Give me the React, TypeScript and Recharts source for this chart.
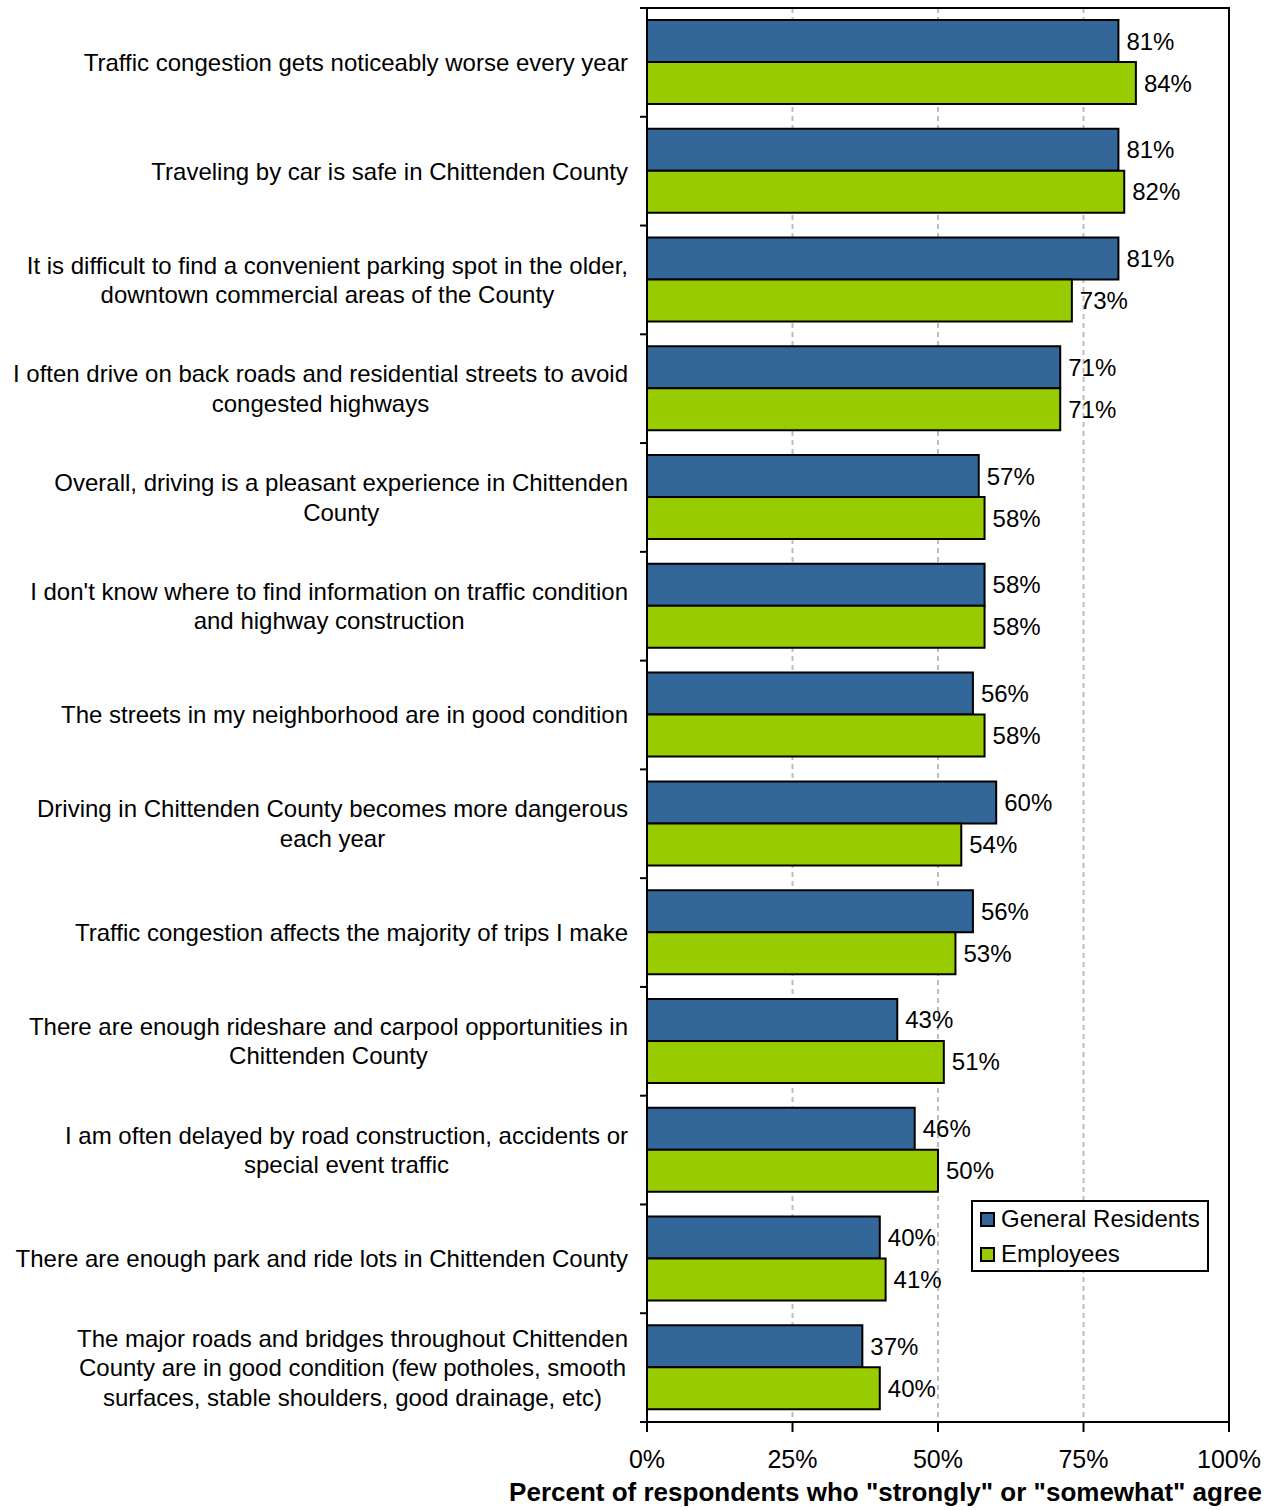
import React from 'react';
import {
  BarChart,
  Bar,
  XAxis,
  YAxis,
  CartesianGrid,
  LabelList,
  ReferenceArea,
} from 'recharts';

const categories = [
  'Traffic congestion gets noticeably worse every year',
  'Traveling by car is safe in Chittenden County',
  'It is difficult to find a convenient parking spot in the older,\ndowntown commercial areas of the County',
  'I often drive on back roads and residential streets to avoid\ncongested highways',
  'Overall, driving is a pleasant experience in Chittenden\nCounty',
  "I don't know where to find information on traffic condition\nand highway construction",
  'The streets in my neighborhood are in good condition',
  'Driving in Chittenden County becomes more dangerous\neach year',
  'Traffic congestion affects the majority of trips I make',
  'There are enough rideshare and carpool opportunities in\nChittenden County',
  'I am often delayed by road construction, accidents or\nspecial event traffic',
  'There are enough park and ride lots in Chittenden County',
  'The major roads and bridges throughout Chittenden\nCounty are in good condition (few potholes, smooth\nsurfaces, stable shoulders, good drainage, etc)',
];

const generalResidents = [81, 81, 81, 71, 57, 58, 56, 60, 56, 43, 46, 40, 37];
const employees = [84, 82, 73, 71, 58, 58, 58, 54, 53, 51, 50, 41, 40];

const seriesNames = ['General Residents', 'Employees'];
const seriesColors = ['#336699', '#99CC00'];
const xTicks = [0, 25, 50, 75, 100];
const xAxisTitle = 'Percent of respondents who "strongly" or "somewhat" agree';

const FONT = '"Liberation Sans", Arial, Helvetica, sans-serif';

const data = categories.map((name, i) => ({
  name,
  gr: generalResidents[i],
  emp: employees[i],
}));

let ctx: CanvasRenderingContext2D | null = null;
function measure(text: string, size: number): number {
  if (!ctx) {
    const c = document.createElement('canvas');
    ctx = c.getContext('2d');
  }
  if (!ctx) return text.length * size * 0.5;
  ctx.font = `${size}px "Liberation Sans", Arial, sans-serif`;
  return ctx.measureText(text).width;
}

const TICK_SIZE = 7;
const TICK_MARGIN = 12;

const CategoryTick = (props: any) => {
  const { x, y, payload, index, visibleTicksCount } = props;
  const lines: string[] = String(payload.value).split('\n');
  const size = 24;
  const lh = 29.5;
  const maxW = Math.max(...lines.map((l) => measure(l, size)));
  const cx = x - maxW / 2;
  const startY = y - ((lines.length - 1) * lh) / 2;
  const half = typeof payload.offset === 'number' ? payload.offset : 0;
  const axisX = x + TICK_SIZE + TICK_MARGIN;
  const tickX = axisX - TICK_SIZE;
  return (
    <g>
      {half > 0 && (
        <line x1={tickX} x2={axisX} y1={y - half} y2={y - half} stroke="#000" strokeWidth={2} />
      )}
      {half > 0 && index === visibleTicksCount - 1 && (
        <line x1={tickX} x2={axisX} y1={y + half} y2={y + half} stroke="#000" strokeWidth={2} />
      )}
      <text
        x={cx}
        y={startY}
        textAnchor="middle"
        fontSize={size}
        fontFamily={FONT}
        fill="#000"
      >
        {lines.map((l, i) => (
          <tspan key={i} x={cx} y={startY + i * lh} dy="0.35em">
            {l}
          </tspan>
        ))}
      </text>
    </g>
  );
};

const AxisTitle = (props: any) => {
  const vb = props.viewBox || {};
  return (
    <text
      x={vb.x + vb.width + 33}
      y={vb.y + 79}
      textAnchor="end"
      fontSize={26}
      fontWeight="bold"
      fontFamily={FONT}
      fill="#000"
    >
      {xAxisTitle}
    </text>
  );
};

const LegendBox = () => (
  <div
    style={{
      position: 'absolute',
      left: 971,
      top: 1200,
      border: '2px solid #000',
      background: '#fff',
      width: 234,
      height: 68,
      boxSizing: 'content-box',
      fontFamily: FONT,
      fontSize: 24,
      color: '#000',
      lineHeight: 1,
    }}
  >
    {seriesNames.map((n, i) => (
      <div
        key={n}
        style={{
          display: 'flex',
          alignItems: 'center',
          height: 36,
          marginTop: -1,
          paddingLeft: 7,
        }}
      >
        <span
          style={{
            display: 'inline-block',
            width: 11,
            height: 11,
            border: '2px solid #000',
            background: seriesColors[i],
            marginRight: 6,
          }}
        />
        <span>{n}</span>
      </div>
    ))}
  </div>
);

export default function App() {
  return (
    <div style={{ position: 'relative', width: 1275, height: 1510, background: '#fff' }}>
      <style>{`body{margin:0;background:#fff;}`}</style>
      <BarChart
        width={1275}
        height={1510}
        data={data}
        layout="vertical"
        margin={{ top: 8, right: 46, bottom: 0, left: 0 }}
        barCategoryGap={12}
        barGap={0}
      >
        <CartesianGrid
          horizontal={false}
          vertical={true}
          stroke="#bdbdbd"
          strokeWidth={2}
          strokeDasharray="5 4"
        />
        <XAxis
          type="number"
          domain={[0, 100]}
          ticks={xTicks}
          tickFormatter={(v: number) => `${v}%`}
          tickSize={10}
          tickMargin={18}
          height={88}
          axisLine={{ stroke: '#000', strokeWidth: 2 }}
          tickLine={{ stroke: '#000', strokeWidth: 2 }}
          tick={{ fill: '#000', fontSize: 25, fontFamily: FONT }}
          interval={0}
          label={<AxisTitle />}
        />
        <YAxis
          type="category"
          dataKey="name"
          width={647}
          tickSize={TICK_SIZE}
          tickMargin={TICK_MARGIN}
          tickLine={false}
          axisLine={{ stroke: '#000', strokeWidth: 2 }}
          interval={0}
          tick={<CategoryTick />}
        />
        <ReferenceArea
          x1={0}
          x2={100}
          fill="none"
          fillOpacity={0}
          stroke="#000"
          strokeWidth={2}
          ifOverflow="visible"
        />
        <Bar
          dataKey="gr"
          name={seriesNames[0]}
          fill={seriesColors[0]}
          stroke="#000"
          strokeWidth={2}
          isAnimationActive={false}
        >
          <LabelList
            dataKey="gr"
            position="right"
            offset={8}
            formatter={(v: any) => `${v}%`}
            style={{ fill: '#000', fontSize: 24, fontFamily: FONT }}
          />
        </Bar>
        <Bar
          dataKey="emp"
          name={seriesNames[1]}
          fill={seriesColors[1]}
          stroke="#000"
          strokeWidth={2}
          isAnimationActive={false}
        >
          <LabelList
            dataKey="emp"
            position="right"
            offset={8}
            formatter={(v: any) => `${v}%`}
            style={{ fill: '#000', fontSize: 24, fontFamily: FONT }}
          />
        </Bar>
      </BarChart>
      <LegendBox />
    </div>
  );
}
